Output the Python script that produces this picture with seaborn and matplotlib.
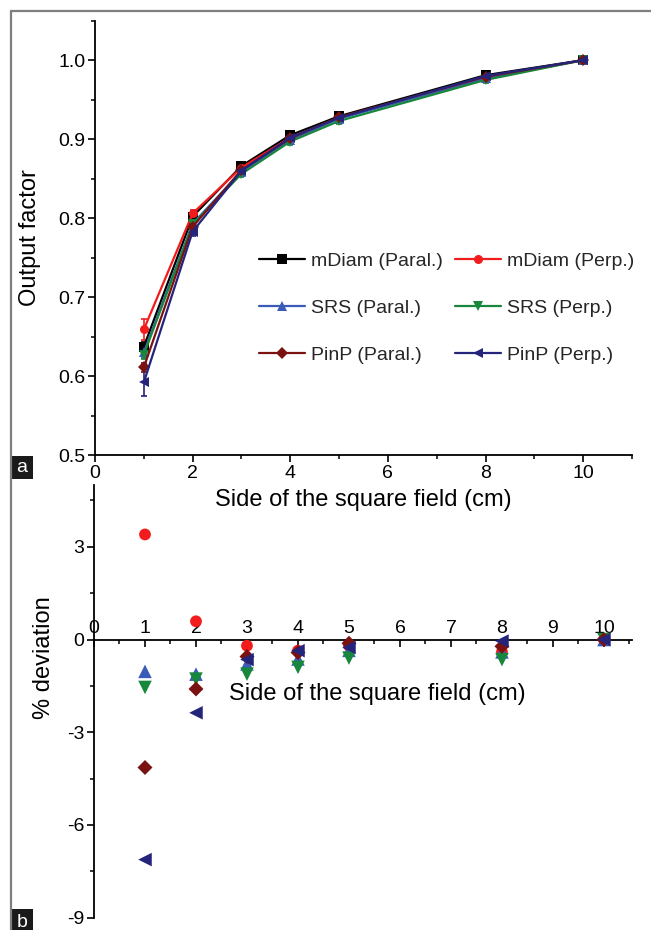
import numpy as np
import pandas as pd
import matplotlib
matplotlib.use("Agg")
import matplotlib.pyplot as plt
import seaborn as sns
from matplotlib.lines import Line2D
from matplotlib.patches import Rectangle
from matplotlib.ticker import MultipleLocator, FormatStrFormatter

# ---------------------------------------------------------------- data
field_sizes = [1, 2, 3, 4, 5, 8, 10]   # side of the square field (cm)

detectors = ["mDiam (Paral.)", "mDiam (Perp.)", "SRS (Paral.)",
             "SRS (Perp.)", "PinP (Paral.)", "PinP (Perp.)"]

# output factors (normalised to the 10 cm field)
of_mdiam_paral = [0.637, 0.802, 0.866, 0.905, 0.929, 0.981, 1.000]
of_mdiam_perp  = [0.659, 0.806, 0.864, 0.902, 0.927, 0.977, 1.000]
of_srs_paral   = [0.630, 0.793, 0.859, 0.899, 0.926, 0.977, 1.000]
of_srs_perp    = [0.627, 0.792, 0.856, 0.897, 0.923, 0.975, 1.000]
of_pinp_paral  = [0.611, 0.789, 0.861, 0.901, 0.928, 0.979, 1.000]
of_pinp_perp   = [0.592, 0.783, 0.860, 0.902, 0.927, 0.980, 1.000]

# one standard deviation of the output factors
sd_mdiam_paral = [0.006, 0.003, 0.003, 0.003, 0.003, 0.002, 0.0]
sd_mdiam_perp  = [0.013, 0.004, 0.003, 0.003, 0.003, 0.002, 0.0]
sd_srs_paral   = [0.007, 0.004, 0.003, 0.003, 0.003, 0.003, 0.0]
sd_srs_perp    = [0.006, 0.005, 0.004, 0.004, 0.004, 0.004, 0.0]
sd_pinp_paral  = [0.006, 0.004, 0.003, 0.003, 0.003, 0.003, 0.0]
sd_pinp_perp   = [0.017, 0.006, 0.004, 0.003, 0.003, 0.003, 0.0]

# percentage deviation with respect to mDiam (Paral.)
dev_mdiam_perp = [3.40, 0.59, -0.20, -0.36, -0.20, -0.40, 0.0]
dev_srs_paral  = [-1.03, -1.12, -0.79, -0.63, -0.35, -0.40, 0.0]
dev_srs_perp   = [-1.55, -1.28, -1.12, -0.90, -0.60, -0.65, 0.0]
dev_pinp_paral = [-4.14, -1.60, -0.55, -0.42, -0.12, -0.22, 0.0]
dev_pinp_perp  = [-7.12, -2.37, -0.65, -0.36, -0.26, -0.05, 0.0]

output_factors = [of_mdiam_paral, of_mdiam_perp, of_srs_paral,
                  of_srs_perp, of_pinp_paral, of_pinp_perp]
std_devs = [sd_mdiam_paral, sd_mdiam_perp, sd_srs_paral,
            sd_srs_perp, sd_pinp_paral, sd_pinp_perp]
deviations = [dev_mdiam_perp, dev_srs_paral, dev_srs_perp,
              dev_pinp_paral, dev_pinp_perp]

# ---------------------------------------------------------------- style
colors = {
    "mDiam (Paral.)": "#000000",
    "mDiam (Perp.)": "#f21c1c",
    "SRS (Paral.)": "#3a5bb8",
    "SRS (Perp.)": "#16873c",
    "PinP (Paral.)": "#7a1212",
    "PinP (Perp.)": "#23247a",
}
markers = {
    "mDiam (Paral.)": "s",
    "mDiam (Perp.)": "o",
    "SRS (Paral.)": "^",
    "SRS (Perp.)": "v",
    "PinP (Paral.)": "D",
    "PinP (Perp.)": "<",
}
# scatter marker areas for the deviation panel
marker_areas = {
    "mDiam (Perp.)": 72,
    "SRS (Paral.)": 95,
    "SRS (Perp.)": 95,
    "PinP (Paral.)": 58,
    "PinP (Perp.)": 95,
}

sns.set_theme(style="ticks")
plt.rcParams["font.family"] = ["Liberation Sans", "DejaVu Sans"]
plt.rcParams["axes.unicode_minus"] = False

W, H = 651, 930
fig = plt.figure(figsize=(W / 100, H / 100), dpi=100)


def fx(px):
    return px / W


def fy(py):
    return 1 - py / H


# ---------------------------------------------------------------- panel a
df_of = pd.DataFrame({
    "field": np.tile(field_sizes, len(detectors)),
    "output": np.concatenate(output_factors),
    "sd": np.concatenate(std_devs),
    "detector": np.repeat(detectors, len(field_sizes)),
})

ax1 = fig.add_axes([fx(95), fy(455), fx(632) - fx(95), fy(20.7) - fy(455)])

for name, grp in df_of.groupby("detector", sort=False):
    ax1.errorbar(grp["field"], grp["output"], yerr=grp["sd"], fmt="none",
                 ecolor=colors[name], elinewidth=1.2, capsize=2.5,
                 capthick=1.2, zorder=2)

sns.lineplot(data=df_of, x="field", y="output", hue="detector",
             style="detector", hue_order=detectors, style_order=detectors,
             palette=colors, markers=markers, dashes=False, markersize=6.5,
             markeredgewidth=0, linewidth=1.6, legend=False, ax=ax1,
             zorder=3)

ax1.set_xlim(0, 11)
ax1.set_ylim(0.5, 1.05)
ax1.xaxis.set_major_locator(MultipleLocator(2))
ax1.xaxis.set_minor_locator(MultipleLocator(1))
ax1.yaxis.set_major_locator(MultipleLocator(0.1))
ax1.yaxis.set_minor_locator(MultipleLocator(0.05))
ax1.yaxis.set_major_formatter(FormatStrFormatter("%.1f"))
sns.despine(ax=ax1)
for s in ("left", "bottom"):
    ax1.spines[s].set_linewidth(1.3)
    ax1.spines[s].set_color("black")
ax1.tick_params(which="major", direction="out", length=5, width=1.2,
                labelsize=14, color="black", labelcolor="black", pad=2)
ax1.tick_params(which="minor", direction="out", length=2.8, width=1.1,
                color="black")
ax1.set_xlabel("Side of the square field (cm)", fontsize=17, color="black",
               labelpad=5)
ax1.set_ylabel("Output factor", fontsize=17, color="black")
ax1.yaxis.set_label_coords((30 - 95) / 537, 0.5)
ax1.yaxis.label.set_va("center")

legend_order = [0, 2, 4, 1, 3, 5]
handles = [Line2D([], [], color=colors[detectors[i]],
                  marker=markers[detectors[i]], markersize=6.5,
                  markeredgewidth=0, linewidth=1.6) for i in legend_order]
labels = [detectors[i] for i in legend_order]
ax1.legend(handles, labels, ncol=2, frameon=False, fontsize=14,
           handlelength=2.4, handletextpad=0.3, labelspacing=1.5,
           columnspacing=0.6, loc="center",
           bbox_to_anchor=(0.6546, 0.3385))

# ---------------------------------------------------------------- panel b
dev_names = detectors[1:]
df_dev = pd.DataFrame({
    "field": np.tile(field_sizes, len(dev_names)),
    "deviation": np.concatenate(deviations),
    "detector": np.repeat(dev_names, len(field_sizes)),
})

ax2 = fig.add_axes([fx(94), fy(917.7), fx(632) - fx(94), fy(485) - fy(917.7)])
ax2.patch.set_visible(False)
sns.scatterplot(data=df_dev, x="field", y="deviation", hue="detector",
                style="detector", size="detector", hue_order=dev_names,
                style_order=dev_names, size_order=dev_names, palette=colors,
                markers=markers, sizes=marker_areas, linewidth=0,
                legend=False, ax=ax2, zorder=3, clip_on=False)

ax2.set_xlim(0, 10.55)
ax2.set_ylim(-9, 5)
ax2.spines["bottom"].set_visible(False)
ax2.spines["right"].set_visible(False)
ax2.spines["top"].set_position(("data", 0))
for s in ("left", "top"):
    ax2.spines[s].set_linewidth(1.3)
    ax2.spines[s].set_color("black")
ax2.xaxis.set_ticks_position("top")
ax2.xaxis.set_major_locator(MultipleLocator(1))
ax2.xaxis.set_minor_locator(MultipleLocator(0.5))
ax2.yaxis.set_major_locator(MultipleLocator(3))
ax2.yaxis.set_minor_locator(MultipleLocator(1.5))
ax2.tick_params(axis="x", which="major", direction="in", length=5, width=1.2,
                labelsize=14, color="black", labelcolor="black", pad=2)
ax2.tick_params(axis="x", which="minor", direction="in", length=2.8,
                width=1.1, color="black")
ax2.tick_params(axis="y", which="major", direction="out", length=5,
                width=1.2, labelsize=14, color="black", labelcolor="black",
                pad=2)
ax2.tick_params(axis="y", which="minor", direction="out", length=2.8,
                width=1.1, color="black")
ax2.set_xlabel("Side of the square field (cm)", fontsize=17, color="black")
ax2.xaxis.set_label_coords((377 - 94) / 538, (917.7 - 694) / 432.7)
ax2.xaxis.label.set_va("center")
ax2.set_ylabel("% deviation", fontsize=17, color="black")
ax2.yaxis.set_label_coords((44 - 94) / 538, (917.7 - 658) / 432.7)
ax2.yaxis.label.set_va("center")

# ---------------------------------------------------------------- frame and panel tags
frame_kw = dict(color="#7f7f7f", linewidth=1.6, transform=fig.transFigure)
fig.add_artist(Line2D([fx(11), fx(11)], [0, fy(11)], **frame_kw))
fig.add_artist(Line2D([fx(11), 1], [fy(11), fy(11)], **frame_kw))

for tag, top, bottom, ty, va in (("a", 456, 479, 468, "center"),
                                 ("b", 909, 940, 927, "baseline")):
    fig.add_artist(Rectangle((fx(11), fy(bottom)), fx(33) - fx(11),
                             fy(top) - fy(bottom), transform=fig.transFigure,
                             facecolor="#1a1a1a", edgecolor="none"))
    fig.text(fx(22), fy(ty), tag, color="white", fontsize=14,
             ha="center", va=va)

fig.savefig("out.png", dpi=100)
